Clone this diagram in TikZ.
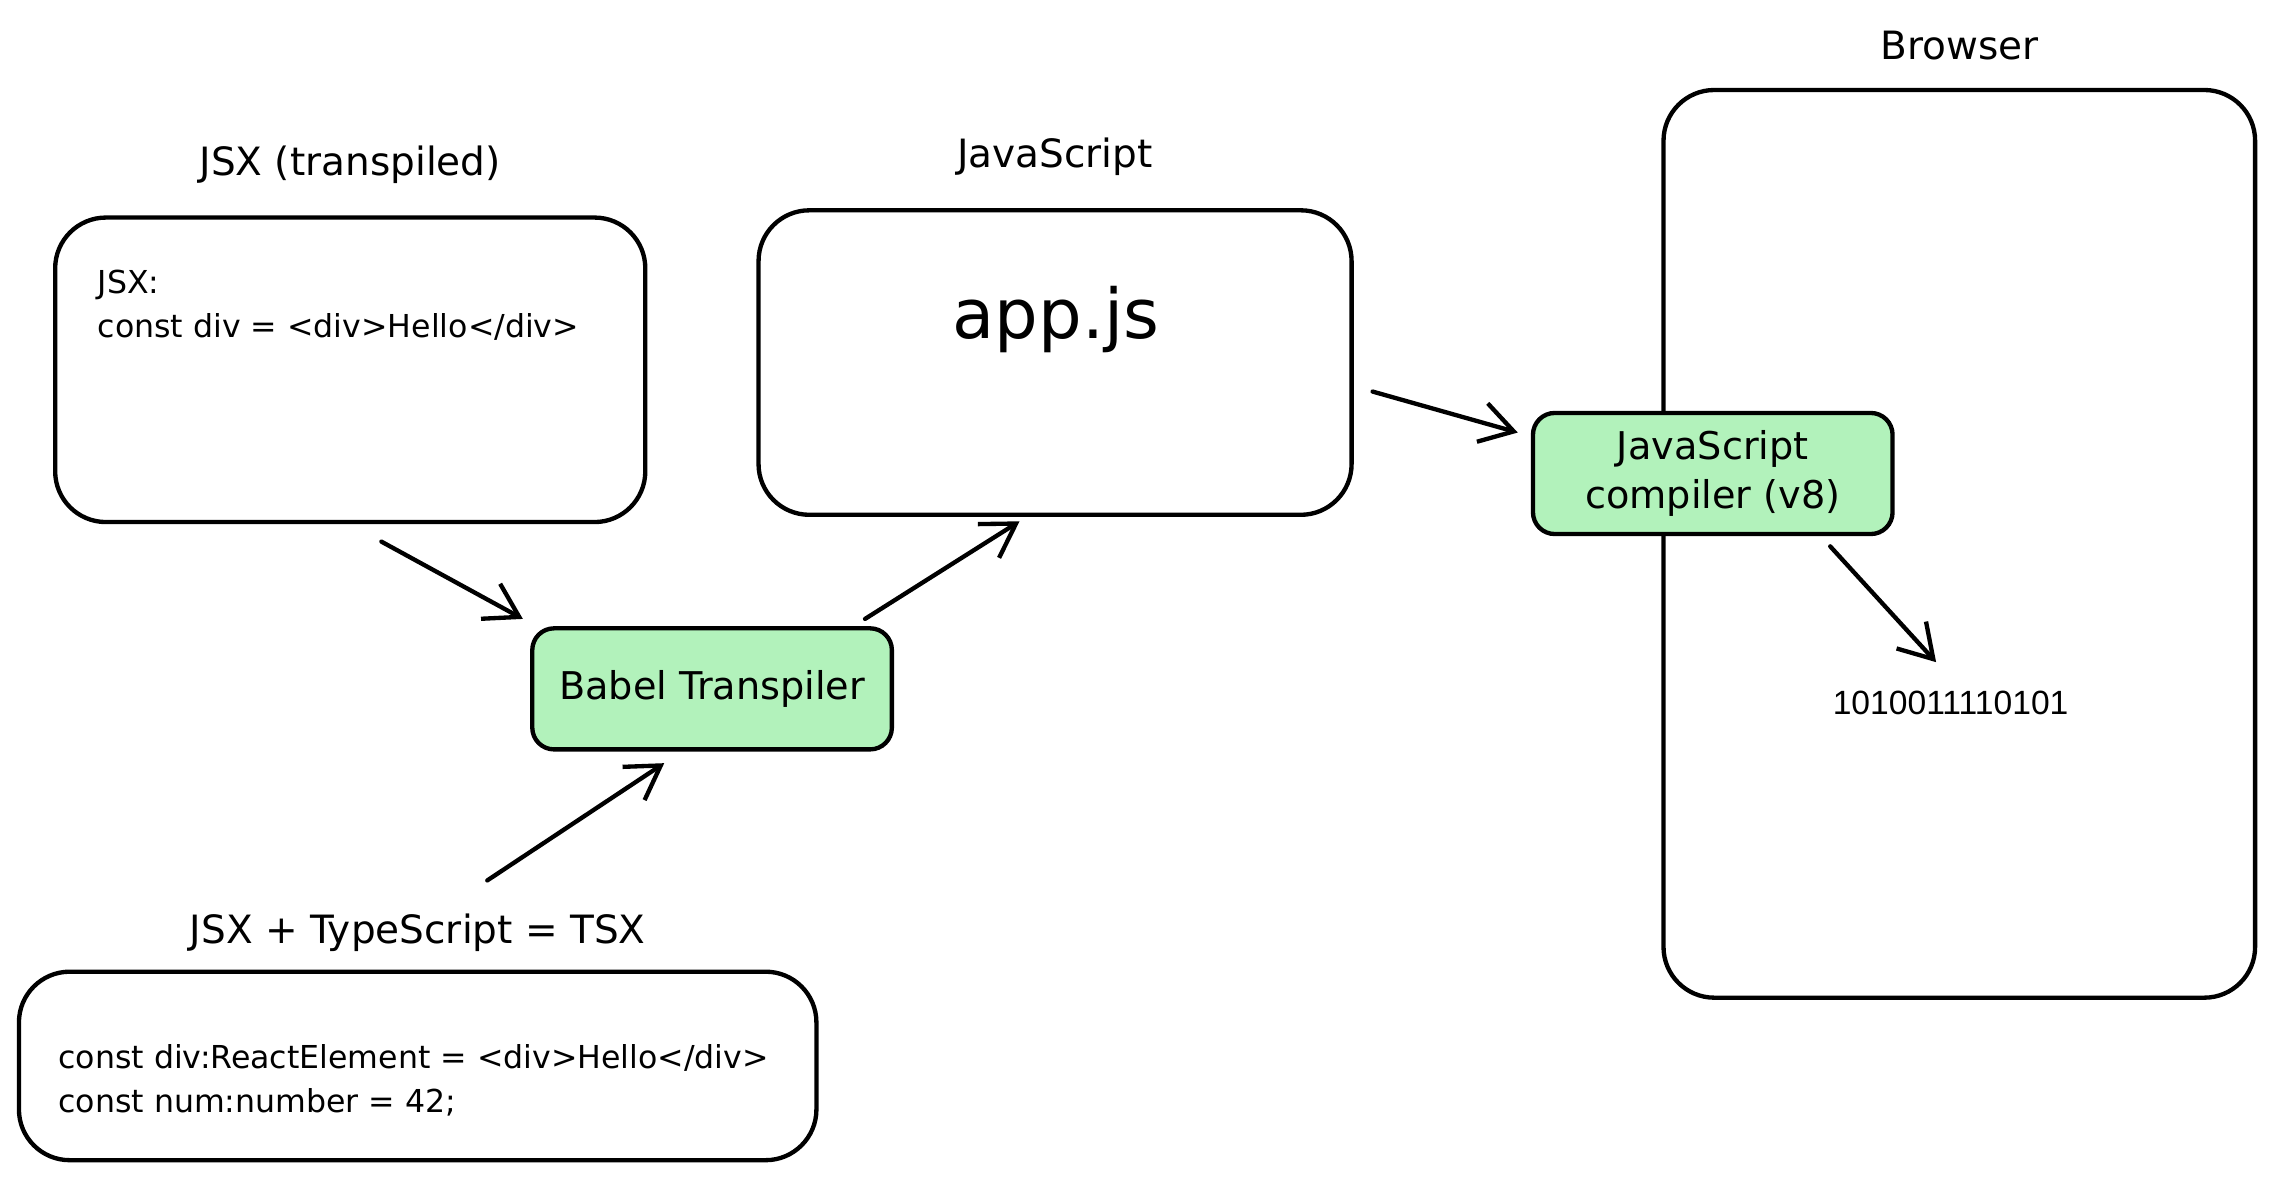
\documentclass[tikz,border=0pt]{standalone}
\usepackage{fontspec}
\setmainfont{DejaVu Sans}
\newfontfamily\plainfont{Liberation Sans}
\usepackage{xcolor}
\definecolor{toolgreen}{HTML}{B2F2BB}
\usetikzlibrary{arrows.meta, positioning}

\begin{document}
\begin{tikzpicture}[
        x=0.02cm, y=-0.02cm,
        % Node styles
        box/.style={rectangle, draw=black, line width=1.7pt, rounded corners=0.7cm},
        tool/.style={rectangle, draw=black, line width=1.7pt, fill=toolgreen, rounded corners=0.3cm,
                     align=center, font=\fontsize{15}{19}\selectfont,
                     minimum width=4.96cm, minimum height=1.67cm},
        title/.style={font=\fontsize{15.3}{18}\selectfont},
        code/.style={align=left, font=\fontsize{12.4}{17}\selectfont, inner sep=0pt},
        arrow/.style={line width=1.7pt, line cap=round, -{Straight Barb[length=4.5mm, width=5.5mm]}}
    ]
        \useasboundingbox (0,0) rectangle (1568,813);

        % Browser frame
        \node[box, minimum width=8.16cm, minimum height=12.52cm] (browser) at (1351,375) {};
        \node[title, above=0.26cm of browser] (browsertitle) {Browser};

        % Source boxes
        \node[box, minimum width=8.14cm, minimum height=4.2cm] (jsx) at (241.5,255) {};
        \node[title, above=0.32cm of jsx] (jsxtitle) {JSX (transpiled)};
        \node[code, anchor=north west] (jsxcode) at (67,186) {JSX:\\const div = <div>Hello</div>};

        \node[box, minimum width=11cm, minimum height=2.6cm] (tsx) at (288,735) {};
        \node[title, above=0.12cm of tsx] (tsxtitle) {JSX + TypeScript = TSX};
        \node[code, anchor=west] (tsxcode) at (40,745) {const div:ReactElement = <div>Hello</div>\\const num:number = 42;};

        % Output box
        \node[box, minimum width=8.18cm, minimum height=4.2cm] (app) at (727.5,250) {};
        \node[title, above=0.32cm of app] (apptitle) {JavaScript};
        \node[font=\fontsize{27}{30}\selectfont] (appjs) at (728,220) {app.js};

        % Tools
        \node[tool] (babel) at (491,475) {Babel Transpiler};
        \node[tool] (compiler) at (1181,326.5) {JavaScript\\compiler (v8)};
        \node[font=\plainfont\fontsize{13.2}{15}\selectfont] (binary) at (1345,485) {1010011110101};

        % Arrows
        \draw[arrow] ([xshift=0.43cm, yshift=-0.24cm]jsx.south) -- ([xshift=-0.1cm, yshift=0.1cm]babel.north west);
        \draw[arrow] ([xshift=0.96cm, yshift=0.34cm]tsxtitle.north) -- ([xshift=-0.66cm, yshift=-0.16cm]babel.south);
        \draw[arrow] ([xshift=-0.4cm, yshift=0.1cm]babel.north east) -- ([xshift=-0.49cm, yshift=-0.06cm]app.south);
        \draw[arrow] ([xshift=0.26cm, yshift=-0.4cm]app.east) -- ([xshift=-0.18cm, yshift=-0.3cm]compiler.north west);
        \draw[arrow] ([xshift=1.62cm, yshift=-0.14cm]compiler.south) -- ([xshift=-0.2cm, yshift=0.28cm]binary.north);
    \end{tikzpicture}
\end{document}
